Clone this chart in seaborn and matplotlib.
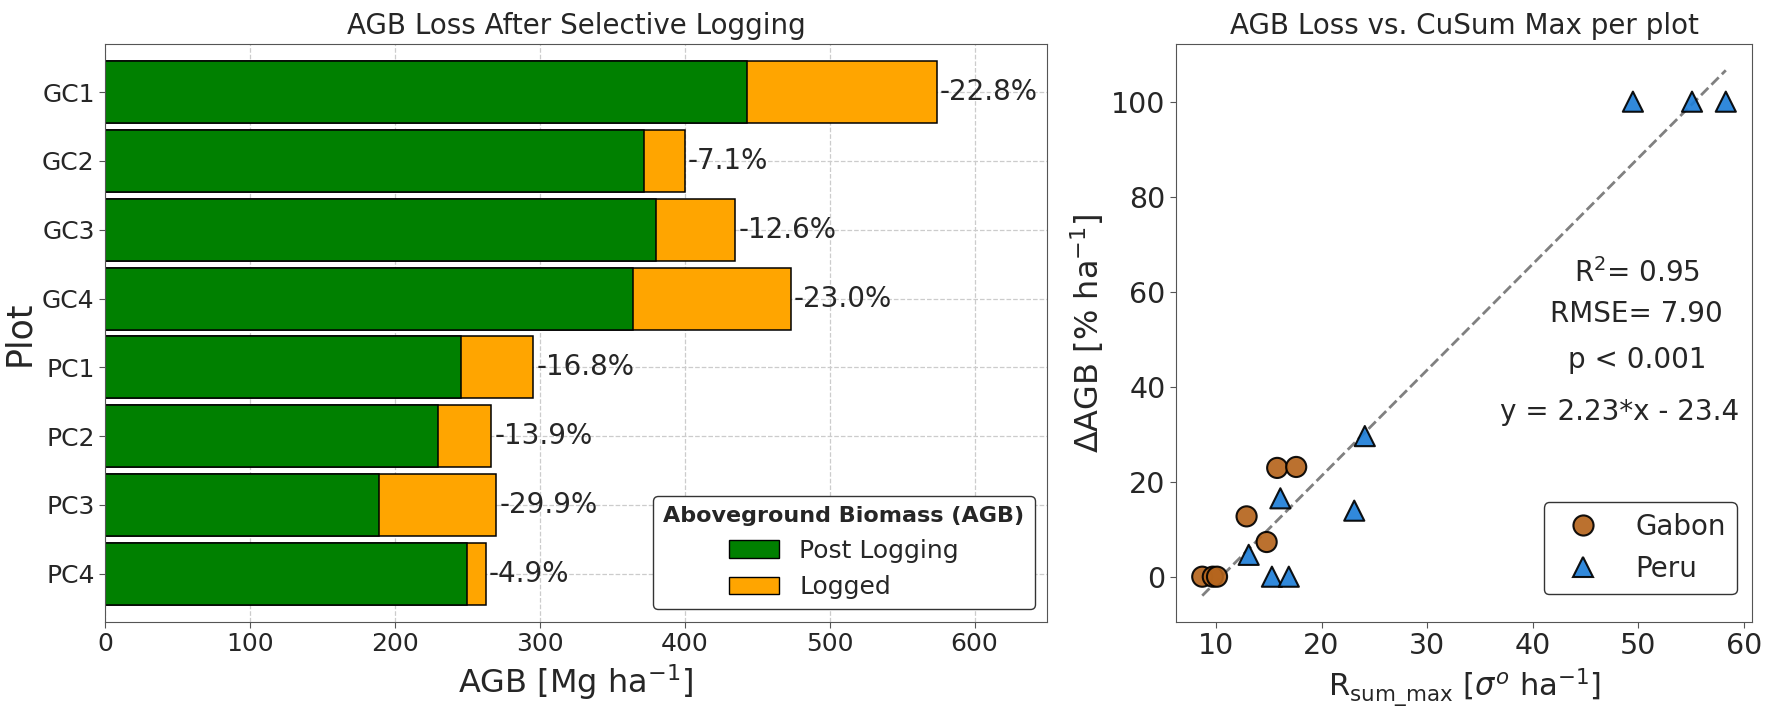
import numpy as np
import pandas as pd
import matplotlib
matplotlib.use("Agg")
import matplotlib.pyplot as plt
import seaborn as sns
from matplotlib.patches import Patch

# ---- data ----
plots = ["GC1", "GC2", "GC3", "GC4", "PC1", "PC2", "PC3", "PC4"]
agb_pre = [574.0, 400.0, 435.0, 473.3, 295.5, 266.5, 270.0, 262.5]    # total bar length
agb_post = [443.1, 371.6, 380.2, 364.4, 245.8, 229.5, 189.2, 249.6]   # green part
loss_labels = ["-22.8%", "-7.1%", "-12.6%", "-23.0%", "-16.8%", "-13.9%", "-29.9%", "-4.9%"]

gabon_x = [8.7, 9.7, 10.1, 12.9, 14.8, 15.8, 17.6]
gabon_y = [0.0, 0.0, 0.0, 12.7, 7.3, 22.9, 23.1]
peru_x = [13.1, 15.3, 16.9, 16.1, 23.1, 24.1, 49.5, 55.1, 58.3]
peru_y = [4.6, 0.0, 0.0, 16.5, 13.9, 29.6, 100.0, 100.0, 100.0]

fit_slope = 2.23
fit_icpt = -23.4
stats_lines = ["R$^2$= 0.95", "RMSE= 7.90", "p < 0.001", "y = 2.23*x - 23.4"]

sns.set_style("white")
plt.rcParams["font.family"] = ["DejaVu Sans"]
plt.rcParams["axes.edgecolor"] = "#555555"

fig = plt.figure(figsize=(17.72, 7.10), dpi=100)
ax1 = fig.add_axes([0.0593, 0.124, 0.5316, 0.814])
ax2 = fig.add_axes([0.6637, 0.124, 0.3250, 0.814])

# ---- left: stacked horizontal bars ----
bars = pd.DataFrame({"plot": plots, "pre": agb_pre, "post": agb_post})
sns.barplot(data=bars, y="plot", x="pre", color="orange", saturation=1,
            edgecolor="black", linewidth=1.1, width=0.9, ax=ax1)
sns.barplot(data=bars, y="plot", x="post", color="green", saturation=1,
            edgecolor="black", linewidth=1.1, width=0.9, ax=ax1)
ax1.set_axisbelow(True)
ax1.grid(True, axis="both", linestyle="--", color="#cccccc", linewidth=0.9)
for i, (v, lab) in enumerate(zip(agb_pre, loss_labels)):
    ax1.text(v + 2, i, lab, va="center", ha="left", fontsize=20)

ax1.set_xlim(0, 650)
ax1.set_ylim(7.7, -0.7)
ax1.set_xticks([0, 100, 200, 300, 400, 500, 600])
ax1.tick_params(axis="both", labelsize=18, length=4, color="#555555", bottom=True, left=True)
ax1.set_title("AGB Loss After Selective Logging", fontsize=20, pad=7)
ax1.set_xlabel("AGB [Mg ha$^{-1}$]", fontsize=23)
ax1.set_ylabel("Plot", fontsize=25)
handles = [Patch(facecolor="green", edgecolor="black", label="Post Logging"),
           Patch(facecolor="orange", edgecolor="black", label="Logged")]
ax1.legend(handles=handles, loc="lower right", fontsize=18,
           title="Aboveground Biomass (AGB)",
           title_fontproperties={"weight": "bold", "size": 16},
           edgecolor="#333333", framealpha=1)

# ---- right: scatter vs cusum ----
pts = pd.DataFrame({
    "x": gabon_x + peru_x,
    "y": gabon_y + peru_y,
    "site": ["Gabon"] * len(gabon_x) + ["Peru"] * len(peru_x),
})
xs = np.array([min(pts["x"]), max(pts["x"])])
ax2.plot(xs, fit_slope * xs + fit_icpt, linestyle="--", color="gray", linewidth=2, zorder=1)
sns.scatterplot(data=pts, x="x", y="y", hue="site", style="site",
                palette={"Gabon": "#b5651d", "Peru": "#1f7fd8"},
                markers={"Gabon": "o", "Peru": "^"}, s=210, alpha=0.92,
                edgecolor="black", linewidth=1.5, ax=ax2, zorder=3)

ax2.set_xticks([10, 20, 30, 40, 50, 60])
ax2.set_yticks([0, 20, 40, 60, 80, 100])
ax2.tick_params(axis="both", labelsize=20.5, length=4, color="#555555", bottom=True, left=True)
ax2.set_title("AGB Loss vs. CuSum Max per plot", fontsize=20, pad=7)
ax2.set_xlabel(r"R$_{\mathrm{sum\_max}}$ [$\sigma^o$ ha$^{-1}$]", fontsize=22)
ax2.set_ylabel("ΔAGB [% ha$^{-1}$]", fontsize=23)

for xpos, ypos, line in zip([0.80, 0.80, 0.80, 0.77], [0.604, 0.533, 0.453, 0.363], stats_lines):
    ax2.text(xpos, ypos, line, transform=ax2.transAxes, ha="center", va="center", fontsize=20)

ax2.legend(loc="lower right", bbox_to_anchor=(0.974, 0.048), borderaxespad=0,
           fontsize=20, markerscale=1.0, edgecolor="#333333", framealpha=1,
           handletextpad=0.9, title=None)

fig.savefig("out.png", dpi=100)
